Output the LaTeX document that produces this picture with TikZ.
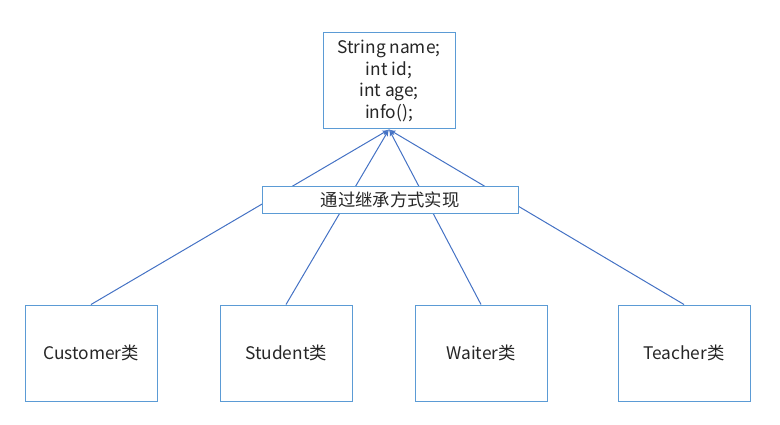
\documentclass[tikz,border=0pt]{standalone}
\usepackage{fontspec}
\setmainfont{Noto Sans CJK SC}
\usetikzlibrary{shapes,arrows}
\usetikzlibrary{positioning}
\definecolor{boxline}{RGB}{91,155,213}
\definecolor{linkline}{RGB}{68,114,196}
\tikzset{auto,>=latex', x=0.75pt, y=-0.75pt, font=\fontsize{13}{16.3}\selectfont}
\tikzstyle{block} = [draw=boxline, line width=0.75pt, fill=white, rectangle, minimum width=99pt, minimum height=72pt, text centered, align=center, text=black!85]
\tikzstyle{tag} = [draw=boxline, line width=0.75pt, fill=white, rectangle, minimum width=192pt, minimum height=20.25pt, inner sep=0pt, text=black!85]
\tikzstyle{link} = [->, draw=linkline, line width=0.75pt]

\begin{document}
\begin{tikzpicture}
		\useasboundingbox (0,0) rectangle (780,424);
		\node [block] (base) at (389,81) {String name;\\int id;\\int age;\\info();};
		\node [block] (customer) at (91,353) {Customer类};
		\node [block] (student) at (286,353) {Student类};
		\node [block] (waiter) at (481,353) {Waiter类};
		\node [block] (teacher) at (684,353) {Teacher类};

		\draw [link] (customer.north) -- (base.south);
		\draw [link] (student.north) -- (base.south);
		\draw [link] (waiter.north) -- (base.south);
		\draw [link] (teacher.north) -- (base.south);

		\node [tag] (inherit) at (390,199.5) {通过继承方式实现};
	\end{tikzpicture}
\end{document}
